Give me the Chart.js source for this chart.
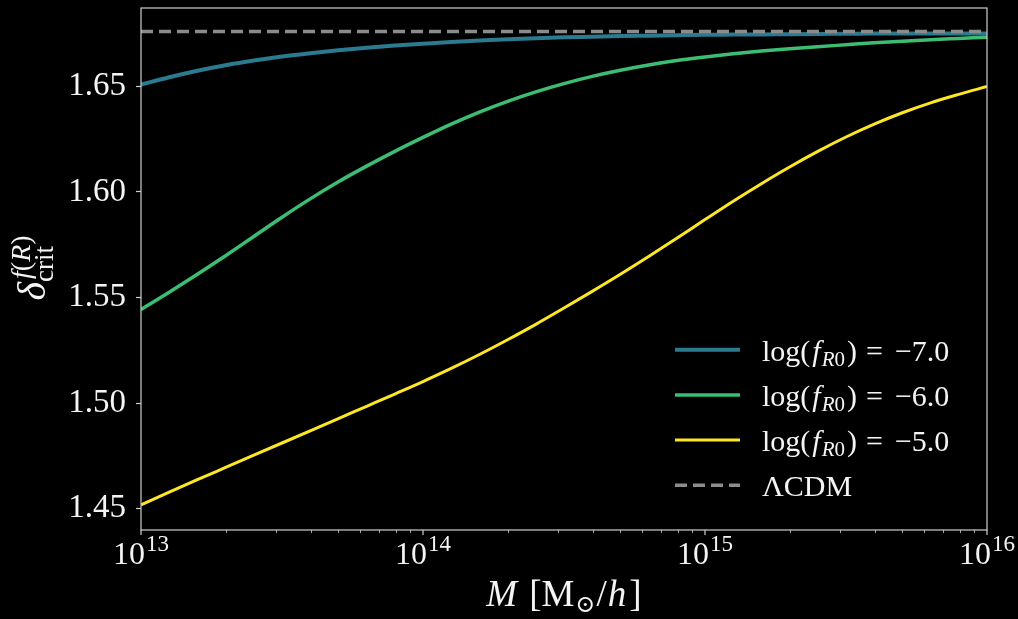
<!DOCTYPE html>
<html>
<head>
<meta charset="utf-8">
<script src="https://cdn.jsdelivr.net/npm/chart.js@4.4.1/dist/chart.umd.min.js"></script>
<style>
html, body { margin: 0; padding: 0; background: #000; }
#chart { display: block; }
</style>
</head>
<body>
<canvas id="chart" width="1018" height="619"></canvas>
<script>
// log10 of halo mass, M in Msun/h
const logMass = [13.0, 13.1, 13.2, 13.3, 13.4, 13.5, 13.6, 13.7, 13.8, 13.9,
  14.0, 14.1, 14.2, 14.3, 14.4, 14.5, 14.6, 14.7, 14.8, 14.9,
  15.0, 15.1, 15.2, 15.3, 15.4, 15.5, 15.6, 15.7, 15.8, 15.9, 16.0];

// critical density threshold for each f(R) model
const deltaFR7 = [1.6508, 1.6543, 1.6574, 1.6600, 1.6622, 1.6641, 1.6657, 1.6671, 1.6683, 1.6693,
  1.6702, 1.6710, 1.6717, 1.6723, 1.6728, 1.6732, 1.6735, 1.6738, 1.6740, 1.6742,
  1.6744, 1.6745, 1.6746, 1.6747, 1.6748, 1.6749, 1.6750, 1.6750, 1.6750, 1.6750, 1.6750];
const deltaFR6 = [1.5443, 1.5525, 1.5610, 1.5698, 1.5789, 1.5880, 1.5967, 1.6048, 1.6122, 1.6192,
  1.6258, 1.6321, 1.6378, 1.6429, 1.6474, 1.6513, 1.6547, 1.6576, 1.6601, 1.6622,
  1.6639, 1.6654, 1.6667, 1.6678, 1.6688, 1.6697, 1.6706, 1.6714, 1.6721, 1.6727, 1.6733];
const deltaFR5 = [1.4518, 1.4578, 1.4637, 1.4695, 1.4753, 1.4811, 1.4869, 1.4927, 1.4985, 1.5043,
  1.5102, 1.5164, 1.5230, 1.5300, 1.5373, 1.5450, 1.5529, 1.5610, 1.5694, 1.5781,
  1.5869, 1.5956, 1.6039, 1.6118, 1.6192, 1.6260, 1.6321, 1.6375, 1.6422, 1.6462, 1.6499];
const deltaLCDM = 1.676;

const modelLogFR0 = ["\u22127.0", "\u22126.0", "\u22125.0"];
const yTicks = [1.45, 1.50, 1.55, 1.60, 1.65];
const xTickPowers = [13, 14, 15, 16];

const SERIF = '"Liberation Serif", "DejaVu Serif", serif';
const TEXT = "#f4f4f4";
const SPINE = "#cfcfcf";

function points(ys){
  return ys.map((y, i) => ({ x: Math.pow(10, logMass[i]), y: y }));
}

function font(size, italic){
  return (italic ? "italic " : "") + size + "px " + SERIF;
}

// draw a run of text pieces (for sub/superscripts)
function drawRich(c, x, y, parts, measureOnly){
  let cx = x;
  parts.forEach(p => {
    c.font = p.font;
    cx += p.before || 0;
    if(!measureOnly) c.fillText(p.t, cx, y + (p.dy || 0));
    cx += c.measureText(p.t).width;
  });
  return cx - x;
}

const decorations = {
  id: "decorations",
  afterDraw(chart){
    const c = chart.ctx;
    const a = chart.chartArea;
    const xs = chart.scales.x;
    c.save();

    // spines
    c.strokeStyle = SPINE;
    c.lineWidth = 1.2;
    c.strokeRect(a.left, a.top, a.right - a.left, a.bottom - a.top);

    // x ticks, major and minor
    c.beginPath();
    for(let n = xTickPowers[0]; n < xTickPowers[xTickPowers.length - 1]; n++){
      for(let m = 2; m <= 9; m++){
        const px = Math.round(xs.getPixelForValue(m * Math.pow(10, n))) + 0.5;
        c.moveTo(px, a.bottom); c.lineTo(px, a.bottom + 3);
      }
    }
    c.lineWidth = 0.8;
    c.stroke();
    c.beginPath();
    xTickPowers.forEach(p => {
      const px = xs.getPixelForValue(Math.pow(10, p));
      c.moveTo(px, a.bottom); c.lineTo(px, a.bottom + 5);
    });
    c.lineWidth = 1.2;
    c.stroke();

    // x tick labels 10^n
    c.fillStyle = TEXT;
    c.textBaseline = "alphabetic";
    c.textAlign = "left";
    xTickPowers.forEach(p => {
      const px = xs.getPixelForValue(Math.pow(10, p));
      const parts = [
        { t: "10", font: font(32) },
        { t: String(p), font: font(23), dy: -13, before: 1 }
      ];
      const w = drawRich(c, 0, 0, parts, true);
      drawRich(c, px - w / 2, 564, parts);
    });

    // x axis title
    const xt = [
      { t: "M", font: font(37, true) },
      { t: "[M", font: font(37), before: 12 },
      { t: "\u2299", font: font(24), dy: 6, before: 1 },
      { t: "/", font: font(37), before: 1 },
      { t: "h", font: font(37, true), before: 1 },
      { t: "]", font: font(37), before: 3 }
    ];
    const xw = drawRich(c, 0, 0, xt, true);
    drawRich(c, (a.left + a.right) / 2 - xw / 2, 606, xt);

    // y axis title, rotated
    c.save();
    c.translate(45, 268);
    c.rotate(-Math.PI / 2);
    const dParts = [{ t: "\u03b4", font: font(40, true) }];
    const sup = [
      { t: "f", font: font(28, true) },
      { t: "(", font: font(28) },
      { t: "R", font: font(28, true) },
      { t: ")", font: font(28) }
    ];
    const sub = [{ t: "crit", font: font(27) }];
    const dw = drawRich(c, 0, 0, dParts, true);
    const sw = Math.max(drawRich(c, 0, 0, sup, true) + 3, drawRich(c, 0, 0, sub, true));
    const x0 = -(dw + sw) / 2;
    drawRich(c, x0, 0, dParts);
    drawRich(c, x0 + dw + 3, -15, sup);
    drawRich(c, x0 + dw, 8, sub);
    c.restore();

    // legend
    const rows = chart.data.datasets.map((ds, i) => ({ ds: ds, y: 349.7 + i * 45.2 }));
    rows.forEach((r, i) => {
      c.beginPath();
      c.strokeStyle = r.ds.borderColor;
      c.lineWidth = r.ds.borderWidth;
      c.setLineDash(r.ds.borderDash || []);
      c.moveTo(675, r.y); c.lineTo(740, r.y);
      c.stroke();
      c.setLineDash([]);
      c.fillStyle = TEXT;
      const ty = r.y + 11;
      if(i < modelLogFR0.length){
        drawRich(c, 762, ty, [
          { t: "log(", font: font(30) },
          { t: "f", font: font(30, true), before: 2 },
          { t: "R", font: font(21, true), dy: 5, before: 1 },
          { t: "0", font: font(21), dy: 5 },
          { t: ")", font: font(30), before: 2 },
          { t: "=", font: font(30), before: 9 },
          { t: modelLogFR0[i], font: font(30), before: 12 }
        ]);
      } else {
        drawRich(c, 762, ty, [{ t: "\u039bCDM", font: font(30) }]);
      }
    });

    c.restore();
  }
};

const ctx = document.getElementById("chart").getContext("2d");

const lineStyle = { pointRadius: 0, fill: false, cubicInterpolationMode: "monotone" };

new Chart(ctx, {
  type: "line",
  data: {
    datasets: [
      Object.assign({ label: "-7", data: points(deltaFR7), borderColor: "#2b7a90", borderWidth: 4, order: 4 }, lineStyle),
      Object.assign({ label: "-6", data: points(deltaFR6), borderColor: "#3dbc74", borderWidth: 3.5, order: 3 }, lineStyle),
      Object.assign({ label: "-5", data: points(deltaFR5), borderColor: "#fde725", borderWidth: 3, order: 2 }, lineStyle),
      Object.assign({ label: "LCDM",
        data: [{ x: Math.pow(10, logMass[0]), y: deltaLCDM }, { x: Math.pow(10, logMass[logMass.length - 1]), y: deltaLCDM }],
        borderColor: "#8c8c8c", borderWidth: 3.5, borderDash: [12, 6], order: 1 }, lineStyle)
    ]
  },
  options: {
    responsive: false,
    devicePixelRatio: 1,
    animation: false,
    layout: { padding: { top: 8, right: 31, left: 0, bottom: 0 } },
    plugins: { legend: { display: false }, tooltip: { enabled: false } },
    scales: {
      x: {
        type: "logarithmic",
        min: 1e13,
        max: 1e16,
        grid: { display: false },
        border: { display: false },
        ticks: { display: false },
        afterFit(scale){
          scale.height = 89;
          scale.paddingLeft = 0;
          scale.paddingRight = 0;
        }
      },
      y: {
        type: "linear",
        min: 1.4399,
        max: 1.6871,
        afterBuildTicks(scale){ scale.ticks = yTicks.map(v => ({ value: v })); },
        grid: { drawOnChartArea: false, tickLength: 5, tickColor: SPINE, tickWidth: 1.2 },
        border: { display: false },
        ticks: {
          color: TEXT,
          padding: 10,
          font: { family: SERIF, size: 33 },
          callback: v => v.toFixed(2)
        },
        afterFit(scale){
          scale.width = 141;
          scale.paddingTop = 0;
          scale.paddingBottom = 0;
        }
      }
    }
  },
  plugins: [decorations]
});
</script>
</body>
</html>
